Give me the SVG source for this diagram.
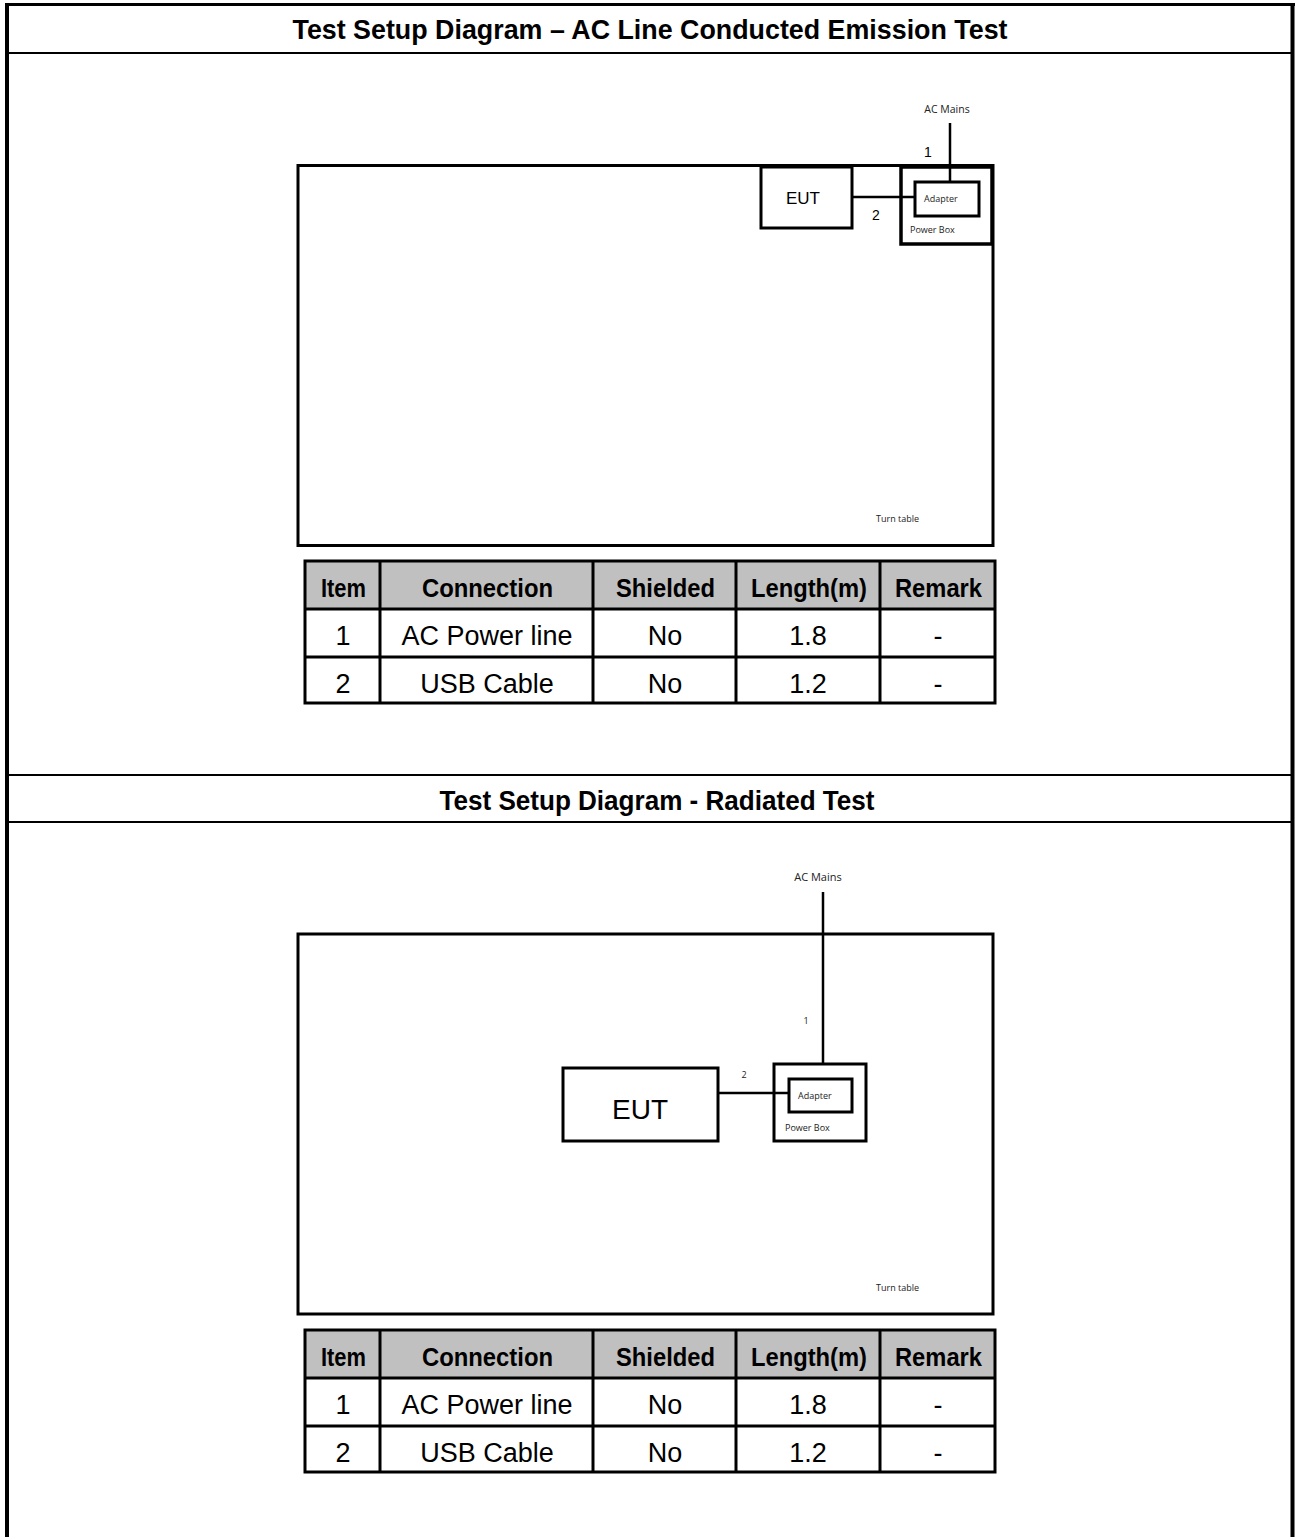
<svg xmlns="http://www.w3.org/2000/svg" width="1295" height="1537" viewBox="0 0 1295 1537">
<style>
.box{fill:none;stroke:#000;stroke-width:3}
.wire{stroke:#000;stroke-width:2.5;fill:none}
.title{font-family:"Liberation Sans",Arial,sans-serif;font-weight:bold;font-size:27px;text-anchor:middle}
.small{font-family:"Open Sans","Noto Sans",sans-serif;font-size:9px;fill:#222}
.num{font-family:"Liberation Sans",Arial,sans-serif;font-size:14px}
.hdr{fill:#c0c0c0}
.cell{font-family:"Liberation Sans",Arial,sans-serif;font-size:27px;text-anchor:middle}
.cellb{font-family:"Liberation Sans",Arial,sans-serif;font-size:25px;font-weight:bold;text-anchor:middle}
.grid{stroke:#000;stroke-width:3;fill:none}
</style>
<rect width="1295" height="1537" fill="#fff"/>
<g id="frame">
<line x1="7" y1="4.5" x2="7" y2="1537" stroke="#000" stroke-width="4"/>
<line x1="1292.5" y1="4.5" x2="1292.5" y2="1537" stroke="#000" stroke-width="4"/>
<line x1="5" y1="4.5" x2="1295" y2="4.5" stroke="#000" stroke-width="3"/>
<line x1="6" y1="53" x2="1293" y2="53" stroke="#000" stroke-width="2"/>
<line x1="6" y1="775" x2="1293" y2="775" stroke="#000" stroke-width="2"/>
<line x1="6" y1="822" x2="1293" y2="822" stroke="#000" stroke-width="2"/>
<text class="title" x="650" y="39" textLength="715" lengthAdjust="spacingAndGlyphs">Test Setup Diagram – AC Line Conducted Emission Test</text>
<text class="title" x="657" y="810" textLength="435" lengthAdjust="spacingAndGlyphs">Test Setup Diagram - Radiated Test</text>
</g>

<g id="turntable1">
<rect class="box" x="298" y="165.5" width="695" height="380"/>
<text class="small" x="876" y="522">Turn table</text>
</g>
<g id="eut1">
<rect class="box" x="761" y="167" width="91" height="61"/>
<text x="803" y="204" font-family="Liberation Sans,Arial,sans-serif" font-size="17" text-anchor="middle">EUT</text>
</g>
<g id="powerbox1">
<rect x="901" y="167" width="91" height="77" fill="none" stroke="#000" stroke-width="3.5"/>
<text class="small" x="910" y="233">Power Box</text>
</g>
<g id="adapter1">
<rect class="box" x="915" y="182" width="64" height="34"/>
<text class="small" x="924" y="202">Adapter</text>
</g>
<g id="acmains1">
<text class="small" x="947" y="113" text-anchor="middle" style="font-size:10.5px">AC Mains</text>
</g>
<g id="connectors1">
<line class="wire" x1="950" y1="123" x2="950" y2="182"/>
<line class="wire" x1="852" y1="197" x2="915" y2="197"/>
<text class="num" x="928" y="157" text-anchor="middle">1</text>
<text class="num" x="876" y="220" text-anchor="middle">2</text>
</g>

<g id="table1">
<rect class="hdr" x="305" y="561" width="690" height="48"/>
<rect class="grid" x="305" y="561" width="690" height="142"/>
<line class="grid" x1="305" y1="609" x2="995" y2="609"/>
<line class="grid" x1="305" y1="657" x2="995" y2="657"/>
<line class="grid" x1="380" y1="561" x2="380" y2="703"/>
<line class="grid" x1="593" y1="561" x2="593" y2="703"/>
<line class="grid" x1="736" y1="561" x2="736" y2="703"/>
<line class="grid" x1="880" y1="561" x2="880" y2="703"/>
<text class="cellb" x="343.5" y="597" textLength="45" lengthAdjust="spacingAndGlyphs">Item</text>
<text class="cellb" x="487.5" y="597" textLength="131" lengthAdjust="spacingAndGlyphs">Connection</text>
<text class="cellb" x="665.5" y="597" textLength="99" lengthAdjust="spacingAndGlyphs">Shielded</text>
<text class="cellb" x="809" y="597" textLength="116" lengthAdjust="spacingAndGlyphs">Length(m)</text>
<text class="cellb" x="938.5" y="597" textLength="87" lengthAdjust="spacingAndGlyphs">Remark</text>
<text class="cell" x="343" y="645">1</text>
<text class="cell" x="487" y="645">AC Power line</text>
<text class="cell" x="665" y="645">No</text>
<text class="cell" x="808" y="645">1.8</text>
<text class="cell" x="938" y="645">-</text>
<text class="cell" x="343" y="693">2</text>
<text class="cell" x="487" y="693">USB Cable</text>
<text class="cell" x="665" y="693">No</text>
<text class="cell" x="808" y="693">1.2</text>
<text class="cell" x="938" y="693">-</text>
</g>

<g id="turntable2">
<rect class="box" x="298" y="934" width="695" height="380"/>
<text class="small" x="876" y="1291">Turn table</text>
</g>
<g id="eut2">
<rect class="box" x="563" y="1068" width="155" height="73"/>
<text x="640" y="1119" font-family="Liberation Sans,Arial,sans-serif" font-size="28" text-anchor="middle">EUT</text>
</g>
<g id="powerbox2">
<rect class="box" x="774" y="1064" width="92" height="77"/>
<text class="small" x="785" y="1131">Power Box</text>
</g>
<g id="adapter2">
<rect class="box" x="789" y="1079" width="63" height="33"/>
<text class="small" x="798" y="1099">Adapter</text>
</g>
<g id="acmains2">
<text class="small" x="818" y="881" text-anchor="middle" style="font-size:11px">AC Mains</text>
</g>
<g id="connectors2">
<line class="wire" x1="823" y1="892" x2="823" y2="1064"/>
<line class="wire" x1="718" y1="1093" x2="789" y2="1093"/>
<text class="small" x="806" y="1024" text-anchor="middle">1</text>
<text class="small" x="744" y="1078" text-anchor="middle">2</text>
</g>

<g id="table2">
<rect class="hdr" x="305" y="1330" width="690" height="48"/>
<rect class="grid" x="305" y="1330" width="690" height="142"/>
<line class="grid" x1="305" y1="1378" x2="995" y2="1378"/>
<line class="grid" x1="305" y1="1426" x2="995" y2="1426"/>
<line class="grid" x1="380" y1="1330" x2="380" y2="1472"/>
<line class="grid" x1="593" y1="1330" x2="593" y2="1472"/>
<line class="grid" x1="736" y1="1330" x2="736" y2="1472"/>
<line class="grid" x1="880" y1="1330" x2="880" y2="1472"/>
<text class="cellb" x="343.5" y="1366" textLength="45" lengthAdjust="spacingAndGlyphs">Item</text>
<text class="cellb" x="487.5" y="1366" textLength="131" lengthAdjust="spacingAndGlyphs">Connection</text>
<text class="cellb" x="665.5" y="1366" textLength="99" lengthAdjust="spacingAndGlyphs">Shielded</text>
<text class="cellb" x="809" y="1366" textLength="116" lengthAdjust="spacingAndGlyphs">Length(m)</text>
<text class="cellb" x="938.5" y="1366" textLength="87" lengthAdjust="spacingAndGlyphs">Remark</text>
<text class="cell" x="343" y="1414">1</text>
<text class="cell" x="487" y="1414">AC Power line</text>
<text class="cell" x="665" y="1414">No</text>
<text class="cell" x="808" y="1414">1.8</text>
<text class="cell" x="938" y="1414">-</text>
<text class="cell" x="343" y="1462">2</text>
<text class="cell" x="487" y="1462">USB Cable</text>
<text class="cell" x="665" y="1462">No</text>
<text class="cell" x="808" y="1462">1.2</text>
<text class="cell" x="938" y="1462">-</text>
</g>
</svg>
